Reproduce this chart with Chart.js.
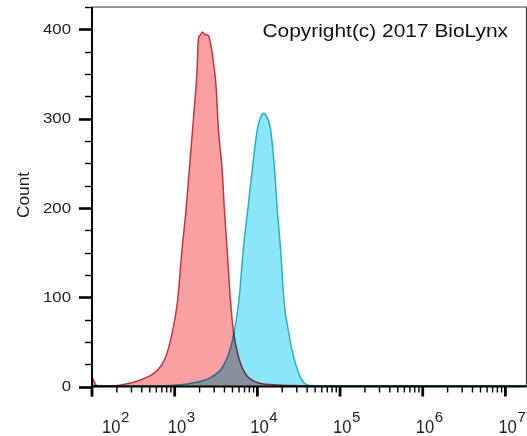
<!DOCTYPE html>
<html>
<head>
<meta charset="utf-8">
<script src="https://cdn.jsdelivr.net/npm/chart.js@4.4.1/dist/chart.umd.min.js"></script>
<style>
  html, body { margin: 0; padding: 0; background: #fff; }
  #wrap { width: 527px; height: 436px; position: relative; }
</style>
</head>
<body>
<div id="wrap"><canvas id="histChart"></canvas></div>
<script>
// histogram values (x = fluorescence, y = count)
const redX = [100, 108, 115, 165, 264, 416, 609, 769, 927, 1084, 1226, 1371, 1503, 1682, 1866, 1932, 2060, 2163, 2350, 2557, 2838, 2940, 3170, 3380, 3750, 4000, 4315, 4733, 5190, 5970, 7200, 9980, 15700, 33400, 60000, 18000000];
const redCounts = [11, 4, 0.6, 0.5, 3, 8.7, 17.7, 32, 59, 96, 153, 198, 243, 299, 355, 389, 394, 397, 394, 393, 374, 364, 336, 288, 243, 198, 153, 96, 59, 32, 14, 4.5, 2, 0.8, 0.3, 0.3];

const blueX = [100, 300, 609, 1000, 1545, 2705, 3750, 4510, 5190, 5970, 6750, 7890, 8670, 9980, 11000, 12000, 13000, 14460, 16170, 17430, 19130, 21000, 24100, 27700, 33400, 40300, 50000, 18000000];
const blueCounts = [1, 0.8, 0.8, 1.5, 3.4, 10, 21, 37, 59, 96, 153, 209, 243, 288, 302, 306, 302, 288, 243, 198, 153, 96, 59, 32, 10, 1.6, 0.8, 0.8];

const xTickValues = [1e2, 1e3, 1e4, 1e5, 1e6, 1e7];
const xTickExponents = ["2", "3", "4", "5", "6", "7"];
const yTickValues = [0, 100, 200, 300, 400];
const yTickLabels = ["0", "100", "200", "300", "400"];

const FONT = "'Liberation Sans', Arial, sans-serif";

function stretchText(ctx, text, x, y, sx, align) {
  ctx.save();
  ctx.translate(x, y);
  ctx.scale(sx, 1);
  ctx.textAlign = align;
  ctx.fillText(text, 0, 0);
  ctx.restore();
}

// axes, tick marks, labels, frame and the copyright note
const axesPlugin = {
  id: "flowAxes",
  beforeDraw(chart) {
    const ctx = chart.ctx;
    ctx.save();
    ctx.fillStyle = "#fff";
    ctx.fillRect(0, 0, chart.width, chart.height);
    ctx.restore();
  },
  // overlapping fills look multiplied in the original
  beforeDatasetsDraw(chart) {
    chart.ctx.save();
    chart.ctx.globalCompositeOperation = "multiply";
  },
  afterDatasetsDraw(chart) {
    chart.ctx.restore();
  },
  afterDraw(chart) {
    const ctx = chart.ctx;
    const area = chart.chartArea;
    const xs = chart.scales.x;
    const ys = chart.scales.y;
    ctx.save();

    // frame top / right
    ctx.strokeStyle = "#333";
    ctx.lineWidth = 1.2;
    ctx.beginPath();
    ctx.moveTo(area.left, area.top);
    ctx.lineTo(area.right, area.top);
    ctx.lineTo(area.right, area.bottom);
    ctx.stroke();

    // axis lines
    ctx.strokeStyle = "#000";
    ctx.lineWidth = 2;
    ctx.beginPath();
    ctx.moveTo(area.left, area.top);
    ctx.lineTo(area.left, area.bottom + 10);
    ctx.moveTo(area.left, area.bottom);
    ctx.lineTo(area.right, area.bottom);
    ctx.stroke();

    // y ticks every 25
    for (let v = 0; v <= ys.max; v += 25) {
      const py = Math.round(ys.getPixelForValue(v)) + 0.5;
      const major = v % 100 === 0;
      ctx.lineWidth = major ? 2.6 : 1.4;
      ctx.beginPath();
      ctx.moveTo(area.left - (major ? 13 : 7), py);
      ctx.lineTo(area.left, py);
      ctx.stroke();
    }

    // x ticks, log minor ticks
    for (let d = 2; d <= 7; d++) {
      for (let m = 1; m <= 9; m++) {
        const v = m * Math.pow(10, d);
        if (v > xs.max) break;
        const px = xs.getPixelForValue(v);
        const major = m === 1;
        ctx.lineWidth = major ? 2.8 : 1.4;
        ctx.beginPath();
        ctx.moveTo(px, area.bottom);
        ctx.lineTo(px, area.bottom + (major ? 10 : 6));
        ctx.stroke();
      }
    }

    ctx.fillStyle = "#222";

    // y labels
    ctx.font = "14px " + FONT;
    ctx.textBaseline = "middle";
    yTickValues.forEach((v, i) => {
      stretchText(ctx, yTickLabels[i], 71, ys.getPixelForValue(v) + 1, 1.2, "right");
    });

    // x labels with superscripts
    ctx.textBaseline = "alphabetic";
    xTickValues.forEach((v, i) => {
      const px = Math.max(xs.getPixelForValue(v) - 7, area.left + 10);
      ctx.font = "18px " + FONT;
      stretchText(ctx, "10", px, 433, 0.92, "left");
      ctx.font = "15px " + FONT;
      stretchText(ctx, xTickExponents[i], px + 19, 422, 1.0, "left");
    });

    // y title
    ctx.font = "16px " + FONT;
    ctx.save();
    ctx.translate(29, 195);
    ctx.rotate(-Math.PI / 2);
    ctx.scale(1.08, 1);
    ctx.textAlign = "center";
    ctx.fillText("Count", 0, 0);
    ctx.restore();

    // copyright
    ctx.fillStyle = "#111";
    ctx.font = "18.5px " + FONT;
    stretchText(ctx, "Copyright(c) 2017 BioLynx", 508, 37, 1.13, "right");

    ctx.restore();
  }
};

const toPoints = (xArr, yArr) => xArr.map((x, i) => ({ x: x, y: yArr[i] }));

new Chart(document.getElementById("histChart"), {
  type: "line",
  data: {
    datasets: [
      {
        label: "Isotype",
        data: toPoints(redX, redCounts),
        borderColor: "rgb(200,65,80)",
        backgroundColor: "rgb(250,160,160)",
        borderWidth: 1.5,
        fill: "origin",
        pointRadius: 0,
        cubicInterpolationMode: "monotone",
      },
      {
        label: "Sample",
        data: toPoints(blueX, blueCounts),
        borderColor: "rgb(50,185,205)",
        backgroundColor: "rgb(140,230,250)",
        borderWidth: 1.5,
        fill: "origin",
        pointRadius: 0,
        cubicInterpolationMode: "monotone",
      },
    ],
  },
  options: {
    responsive: true,
    maintainAspectRatio: false,
    animation: false,
    layout: { padding: { top: 7, right: 0.5, left: 0, bottom: 0 } },
    scales: {
      x: {
        type: "logarithmic",
        min: 100,
        max: 18000000,
        grid: { display: false },
        border: { display: false },
        ticks: { display: false },
        afterFit: function (scale) {
          scale.height = 49.5;
        },
      },
      y: {
        min: 0,
        max: 425,
        grid: { display: false },
        border: { display: false },
        ticks: { display: false },
        afterFit: function (scale) {
          scale.width = 92;
        },
      },
    },
    plugins: {
      legend: { display: false },
      tooltip: { enabled: false },
    },
  },
  plugins: [axesPlugin],
});
</script>
</body>
</html>
